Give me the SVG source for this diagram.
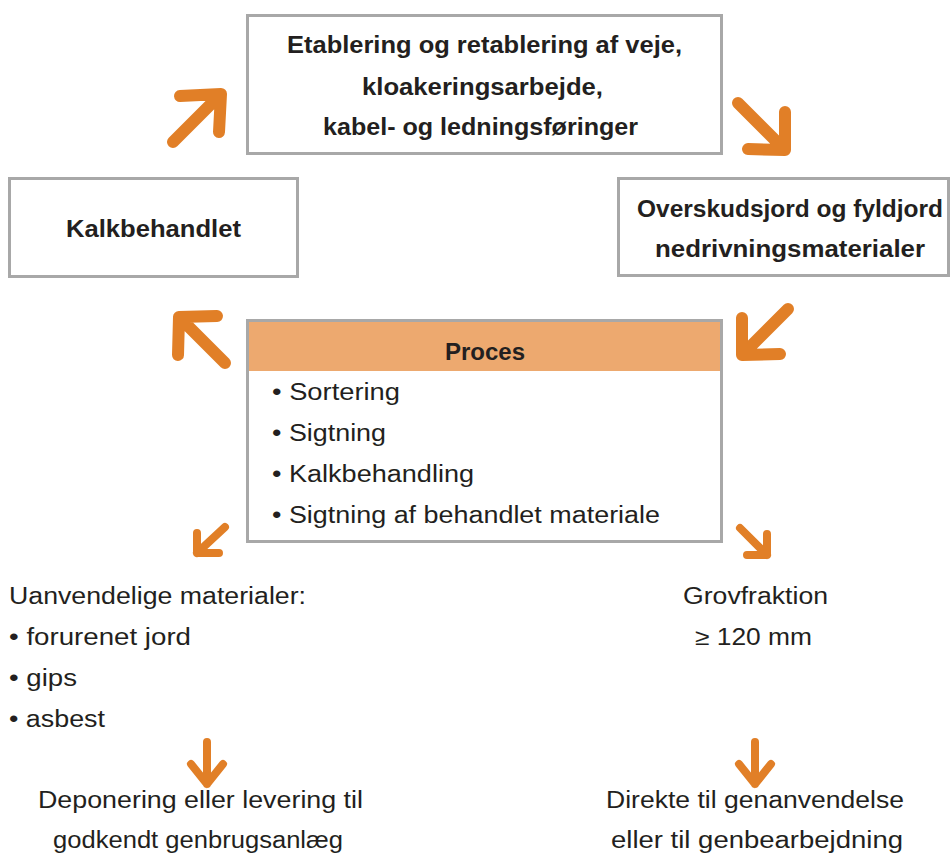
<svg xmlns="http://www.w3.org/2000/svg" width="950" height="854" viewBox="0 0 950 854">
<style>
.box{fill:#fff;stroke:#a8a8a8;stroke-width:3}
.b{font-family:"Liberation Sans",Arial,sans-serif;font-weight:bold;font-size:23px;fill:#231f20;text-anchor:middle}
.r{font-family:"Liberation Sans",Arial,sans-serif;font-size:23px;fill:#231f20}
.c{text-anchor:middle}
.arr{fill:none;stroke:#e17f27;stroke-linecap:round;stroke-linejoin:round}
.big{stroke-width:12}
.sm{stroke-width:8}
</style>
<rect width="950" height="854" fill="#fff"/>
<g id="node-top">
<rect class="box" x="247.5" y="15.5" width="474" height="138"/>
<text class="b" x="484.5" y="53" textLength="395" lengthAdjust="spacingAndGlyphs">Etablering og retablering af veje,</text>
<text class="b" x="482.5" y="95" textLength="241" lengthAdjust="spacingAndGlyphs">kloakeringsarbejde,</text>
<text class="b" x="480.5" y="135" textLength="315" lengthAdjust="spacingAndGlyphs">kabel- og ledningsføringer</text>
</g>
<g id="node-kalk">
<rect class="box" x="9.5" y="178.5" width="288" height="98"/>
<text class="b" x="153.5" y="237" textLength="175" lengthAdjust="spacingAndGlyphs">Kalkbehandlet</text>
</g>
<g id="node-overskud">
<rect class="box" x="618.5" y="178.5" width="330" height="97"/>
<text class="b" x="790" y="217" textLength="306" lengthAdjust="spacingAndGlyphs">Overskudsjord og fyldjord</text>
<text class="b" x="790" y="257" textLength="270" lengthAdjust="spacingAndGlyphs">nedrivningsmaterialer</text>
</g>
<g id="node-proces">
<rect class="box" x="247.5" y="320.5" width="474" height="221"/>
<rect x="249" y="322" width="471" height="49" fill="#eda96f"/>
<text class="b" x="485" y="360" textLength="80" lengthAdjust="spacingAndGlyphs">Proces</text>
<text class="r" x="272" y="400" textLength="128" lengthAdjust="spacingAndGlyphs">• Sortering</text>
<text class="r" x="272" y="441" textLength="114" lengthAdjust="spacingAndGlyphs">• Sigtning</text>
<text class="r" x="272" y="482" textLength="202" lengthAdjust="spacingAndGlyphs">• Kalkbehandling</text>
<text class="r" x="272" y="523" textLength="388" lengthAdjust="spacingAndGlyphs">• Sigtning af behandlet materiale</text>
</g>
<g id="node-uanvendelige">
<text class="r" x="9" y="604" textLength="297" lengthAdjust="spacingAndGlyphs">Uanvendelige materialer:</text>
<text class="r" x="9" y="645" textLength="182" lengthAdjust="spacingAndGlyphs">• forurenet jord</text>
<text class="r" x="9" y="686" textLength="68" lengthAdjust="spacingAndGlyphs">• gips</text>
<text class="r" x="9" y="727" textLength="96" lengthAdjust="spacingAndGlyphs">• asbest</text>
</g>
<g id="node-grov">
<text class="r c" x="755.5" y="604" textLength="145" lengthAdjust="spacingAndGlyphs">Grovfraktion</text>
<text class="r c" x="753.5" y="645" textLength="117" lengthAdjust="spacingAndGlyphs">≥ 120 mm</text>
</g>
<g id="node-deponering">
<text class="r c" x="200.5" y="808" textLength="325" lengthAdjust="spacingAndGlyphs">Deponering eller levering til</text>
<text class="r c" x="198" y="848" textLength="290" lengthAdjust="spacingAndGlyphs">godkendt genbrugsanlæg</text>
</g>
<g id="node-direkte">
<text class="r c" x="755" y="808" textLength="298" lengthAdjust="spacingAndGlyphs">Direkte til genanvendelse</text>
<text class="r c" x="757" y="848" textLength="292" lengthAdjust="spacingAndGlyphs">eller til genbearbejdning</text>
</g>
<g id="connectors">
<path class="arr big" d="M173 142 L221 94 M180 96 L221 94 L219 132"/>
<path class="arr big" d="M738 103 L785 150 M785 112 L785 150 L748 149"/>
<path class="arr big" d="M225 363 L179 317 M217 316 L179 317 L178 355"/>
<path class="arr big" d="M788 309 L742 355 M742 318 L742 355 L780 354"/>
<path class="arr sm" d="M225 527 L197 553 M197 533 L197 553 L219 553"/>
<path class="arr sm" d="M740 528 L767 555 M767 534 L767 555 L747 555"/>
<path class="arr sm" d="M207 742 L207 784 M191 764 L207 784 L223 764"/>
<path class="arr sm" d="M755 742 L755 784 M739 764 L755 784 L771 764"/>
</g>
</svg>
